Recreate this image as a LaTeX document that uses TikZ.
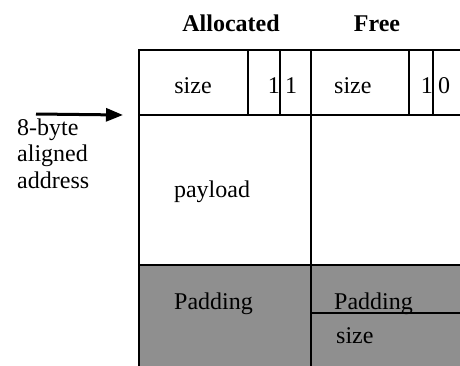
\documentclass[tikz,border=0pt]{standalone}
\usepackage{fontspec}
\setmainfont{Liberation Serif}
\usetikzlibrary{arrows.meta,positioning}
\definecolor{padgray}{RGB}{143,143,143}
\begin{document}
\begin{tikzpicture}[x=1pt,y=-1pt,
  every node/.style={inner sep=0pt,font=\fontsize{24}{26.5}\selectfont},
  cell/.style={draw=black,line width=2.6pt,outer sep=0pt,anchor=north west},
  pad/.style={cell,fill=padgray},
  lbl/.style={anchor=base},
  head/.style={anchor=base,font=\fontsize{24}{26.5}\selectfont\bfseries}]
\useasboundingbox (0,0) rectangle (460,365);
\clip (0,0) rectangle (460,365);
\node[pad,minimum width=172pt,minimum height=110pt] (apad) at (139,265) {};
\node[pad,minimum width=162pt,minimum height=48pt] (fpad) at (311,265) {};
\node[pad,minimum width=162pt,minimum height=62pt] (fsz) at (311,313) {};
\node[cell,minimum width=109pt,minimum height=65pt] (asize) at (139,50) {};
\node[cell,minimum width=32pt,minimum height=65pt] (abit1) at (248,50) {};
\node[cell,minimum width=31pt,minimum height=65pt] (abit0) at (280,50) {};
\node[cell,minimum width=98pt,minimum height=65pt] (fsize) at (311,50) {};
\node[cell,minimum width=24pt,minimum height=65pt] (fbit1) at (409,50) {};
\node[cell,minimum width=40pt,minimum height=65pt] (fbit0) at (433,50) {};
\node[cell,minimum width=172pt,minimum height=150pt] (apay) at (139,115) {};
\node[cell,minimum width=162pt,minimum height=150pt] (fpay) at (311,115) {};

\node[head] (alloc) at (231,31) {Allocated};
\node[head] (free) at (377,31) {Free};
\node[lbl] (asizet) at (193,93) {size};
\node[lbl,anchor=base east] (a1t) at (280,93) {1};
\node[lbl,anchor=base west] (a0t) at (285,93) {1};
\node[lbl,anchor=base west] (fsizet) at (334,93) {size};
\node[lbl,anchor=base east] (f1t) at (433,93) {1};
\node[lbl,anchor=base west] (f0t) at (438,93) {0};
\node[lbl] (payt) at (212,197) {payload};
\node[lbl,anchor=base west] (apadt) at (174,309) {Padding};
\node[lbl,anchor=base west] (fpadt) at (334,309) {Padding};
\node[lbl,anchor=base west] (fszt) at (336,343) {size};

\node[anchor=base west,align=left] (addr) at (17,188) {8-byte\\aligned\\address};
\coordinate (tail) at (36,114);
\draw[line width=3pt,-{Triangle[length=17pt,width=13pt]}] (tail) -- ([xshift=-16pt]apay.north west);
\end{tikzpicture}
\end{document}
